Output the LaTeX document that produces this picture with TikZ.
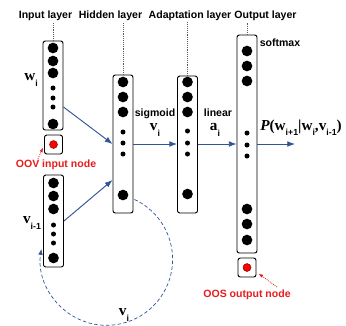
\documentclass[tikz,border=0pt]{standalone}
\usepackage{fontspec}
\setmainfont{Liberation Serif}
\setsansfont{Liberation Sans}
\usetikzlibrary{arrows.meta}
\definecolor{flowblue}{RGB}{47,85,151}
\definecolor{oovred}{RGB}{232,28,28}
\newcommand{\vsym}[2]{\textbf{#1}\raisebox{-0.75ex}{\fontsize{7.5}{8}\sffamily\bfseries #2}}
\begin{document}
\begin{tikzpicture}[x=0.03cm,y=-0.03cm,>=Latex,
  layerbox/.style={draw,rounded corners=2pt,line width=0.8pt,inner sep=0pt,minimum width=0.6cm},
  hdr/.style={font=\sffamily\bfseries\fontsize{9}{10}\selectfont,inner sep=1pt},
  fnc/.style={font=\sffamily\bfseries\fontsize{9}{10}\selectfont,inner sep=1pt},
  sym/.style={font=\fontsize{13}{14}\selectfont,inner sep=1pt},
  note/.style={font=\sffamily\bfseries\fontsize{9}{10}\selectfont,text=oovred,inner sep=1pt},
  flow/.style={->,flowblue,line width=0.8pt},
  pointer/.style={->,oovred,densely dotted,line width=0.7pt,>={Latex[length=4pt,width=3pt]}},
  guide/.style={densely dotted,line width=0.6pt,gray!70!black}]
\useasboundingbox (0,0) rectangle (346,325);

% Column headers
\node[hdr] (HI) at (45.5,16) {Input layer};
\node[hdr] (HH) at (110.5,16) {Hidden layer};
\node[hdr] (HA) at (190,16) {Adaptation layer};
\node[hdr] (HO) at (265.5,16) {Output layer};

% Layer boxes
\node[layerbox,minimum height=2.67cm] (inp) at (53,85.5) {};
\node[layerbox,minimum width=0.54cm,minimum height=0.57cm] (oov) at (53.5,144.5) {};
\node[layerbox,minimum height=2.76cm] (ctx) at (53.5,221) {};
\node[layerbox,minimum height=4.14cm] (hid) at (123,144) {};
\node[layerbox,minimum height=4.11cm] (ada) at (187.5,144.5) {};
\node[layerbox,minimum height=6.54cm] (out) at (247,144) {};
\node[layerbox,minimum width=0.54cm,minimum height=0.57cm] (oos) at (247,267.5) {};

% Units
\foreach \cy in {48,61,73,124} \fill (53,\cy) circle[radius=0.16cm];
\foreach \cy in {88,98,107} \fill (53,\cy) circle[radius=0.075cm];
\foreach \cy in {183,196,209,258} \fill (53.5,\cy) circle[radius=0.16cm];
\foreach \cy in {225,234,243} \fill (53.5,\cy) circle[radius=0.075cm];
\foreach \cy in {82,97,112,195} \fill (123,\cy) circle[radius=0.16cm];
\foreach \cy in {132,143,154} \fill (123,\cy) circle[radius=0.075cm];
\foreach \cy in {82,97,112,194} \fill (187.5,\cy) circle[radius=0.16cm];
\foreach \cy in {131,143,154} \fill (187.5,\cy) circle[radius=0.075cm];
\foreach \cy in {51,66,81,209,224,240} \fill (247,\cy) circle[radius=0.16cm];
\foreach \cy in {133,145,156} \fill (247,\cy) circle[radius=0.075cm];
\filldraw[fill=red,draw=red!50!black,line width=0.4pt] (oov.center) circle[radius=0.12cm];
\filldraw[fill=red,draw=red!50!black,line width=0.4pt] (oos.center) circle[radius=0.12cm];

% Header guides
\draw[guide] (inp.north) -- (inp.north |- HI.south);
\draw[guide] (hid.north) -- (hid.north |- HH.south);
\draw[guide] (ada.north) -- (ada.north |- HA.south);
\draw[guide] (out.north) -- (out.north |- HO.south);

% Labels
\node[sym] (lw) at (31,80) {\vsym{w}{i}};
\node[sym] (lvp) at (32,223) {\vsym{v}{i-1}};
\node[sym] (lv) at (155,130) {\vsym{v}{i}};
\node[sym] (la) at (215,130) {\vsym{a}{i}};
\node[sym] (lvl) at (124,315) {\vsym{v}{i}};
\node[sym] (lp) at (301,128) {\textbf{\textit{P}}\textbf{(}\vsym{w}{i+1}\textbf{|}\vsym{w}{i}\textbf{,}\vsym{v}{i-1}\textbf{)}};
\node[fnc] (fs) at (155,114) {sigmoid};
\node[fnc] (fl) at (218,113) {linear};
\node[fnc] (fm) at (280,43) {softmax};
\node[note] (noov) at (56,165) {OOV input node};
\node[note] (noos) at (247,295) {OOS output node};

% Forward flows
\coordinate (pend) at (295,144);
\draw[flow] ([yshift=-0.645cm]inp.east) -- (hid.west);
\draw[flow] (ctx.east) -- ([yshift=-1.08cm]hid.west);
\draw[flow] (hid.east) -- ([yshift=0.015cm]ada.west);
\draw[flow] ([yshift=0.015cm]ada.east) -- (out.west);
\draw[flow] (out.east) -- (pend);

% Recurrent loop back to v_{i-1}
\draw[flow,densely dashed,line width=0.6pt,>={Latex[length=5pt,width=4pt]}]
  ([yshift=0.42cm,xshift=0.03cm]hid.south east) arc[start angle=65,end angle=-189,radius=1.98cm];

% Pointers to extra nodes
\draw[pointer] ([xshift=-0.54cm]noov.north) -- ([xshift=-0.03cm,yshift=0.21cm]oov.south west);
\draw[pointer] ([xshift=0.9cm,yshift=0.05cm]noos.north) -- ([xshift=0.06cm,yshift=0.12cm]oos.south east);
\end{tikzpicture}
\end{document}
